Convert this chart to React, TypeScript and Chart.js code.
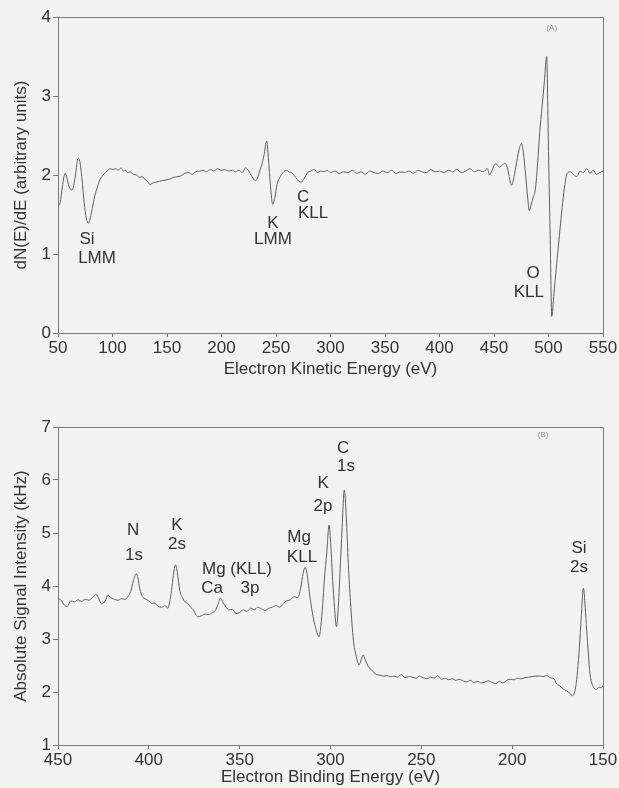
import React, { useEffect, useRef } from "react";
import { Chart, registerables } from "chart.js";

Chart.register(...registerables);

// ---------- Panel A: Auger derivative spectrum ----------
const kineticEnergy = [
  50, 52, 54, 56.5, 58, 60, 62.5, 64, 66, 68.5, 70, 72, 74, 76, 77.8, 79.5, 82, 84, 86, 88.5,
  92, 95, 98, 100, 103, 105, 108, 110, 112, 114, 116, 119, 122, 125, 127, 130, 132, 134.5, 137, 140,
  143, 146, 150, 153, 156, 160, 163, 166, 170, 173, 176, 180, 183, 186, 190, 193, 196, 200, 203, 206,
  210, 213, 216, 219, 222, 225, 228, 231, 233, 235, 237, 239, 241.4, 243, 245, 247, 249, 251, 253.5, 256,
  259, 262, 265, 268, 271, 273, 276, 279, 282, 285, 288, 291, 294, 297, 300, 304, 308, 312, 316, 320,
  324, 328, 332, 336, 340, 344, 348, 352, 356, 360, 364, 368, 372, 376, 380, 384, 388, 392, 396, 400,
  404, 408, 412, 416, 420, 424, 428, 432, 436, 440, 444, 446, 448, 450, 452, 455, 458, 460, 462, 464,
  466, 468, 470, 473, 475.3, 477, 479, 481, 482.3, 484, 486, 488, 490, 492, 494, 496, 498.3, 500, 501.5, 503,
  505, 507, 509, 511, 513, 515, 517, 520, 523, 526, 529, 532, 535, 538, 541, 544, 547, 550,
];
const dNdE = [
  1.6, 1.65, 1.85, 2.02, 1.97, 1.86, 1.81, 1.84, 2.0, 2.21, 2.17, 1.95, 1.65, 1.45, 1.39, 1.45, 1.62, 1.75, 1.84, 1.94,
  2.01, 2.05, 2.08, 2.07, 2.08, 2.06, 2.09, 2.05, 2.06, 2.03, 2.04, 2.01, 2.0, 1.97, 1.98, 1.94, 1.92, 1.88, 1.9, 1.91,
  1.92, 1.93, 1.94, 1.95, 1.97, 1.98, 1.99, 2.02, 2.03, 2.01, 2.04, 2.05, 2.06, 2.04, 2.07, 2.05, 2.08, 2.06, 2.07, 2.05,
  2.06, 2.04, 2.06, 2.03, 2.09, 2.05, 1.98, 1.93, 1.96, 2.05, 2.13, 2.25, 2.43, 2.22, 1.85, 1.63, 1.72, 1.88, 1.97, 2.02,
  2.06, 2.04, 2.02, 1.97, 1.92, 1.91, 1.96, 2.03, 2.05, 2.07, 2.03, 2.05, 2.04, 2.06, 2.03, 2.05, 2.02, 2.04, 2.03, 2.06,
  2.02, 2.04, 2.01, 2.05, 2.03, 2.02, 2.05, 2.03, 2.06, 2.02, 2.04, 2.03, 2.05, 2.02, 2.06, 2.04, 2.03, 2.07, 2.04, 2.05,
  2.03, 2.06, 2.04, 2.07, 2.03, 2.05, 2.08, 2.04, 2.06, 2.04, 2.08, 2.0, 2.05, 2.12, 2.14, 2.1, 2.13, 2.15, 2.1, 1.98,
  1.87, 1.95, 2.1, 2.32, 2.4, 2.28, 2.0, 1.7, 1.55, 1.62, 1.72, 1.82, 2.15, 2.55, 2.85, 3.15, 3.5, 2.3, 1.25, 0.21,
  0.5, 0.8, 1.09, 1.38, 1.65, 1.88, 2.02, 2.04, 2.0, 1.98, 2.05, 2.03, 2.08, 2.02, 2.06, 2.01, 2.03, 2.05,
];
const topNotes = ["Si", "LMM", "K", "LMM", "C", "KLL", "O", "KLL"];
const topNoteX = [76.6, 85.8, 247.2, 247.2, 274.8, 284, 485.8, 482];
const topNoteY = [1.19, 0.94, 1.39, 1.18, 1.72, 1.52, 0.76, 0.51];

// ---------- Panel B: XPS survey ----------
const bindingEnergy = [
  450, 448, 447, 445, 443, 441, 439, 437, 435, 433, 431, 429, 427.5, 426, 424, 422.5, 421, 419, 417, 415,
  413, 411.5, 410, 408.5, 407, 406, 405, 403.5, 402, 400, 398.5, 397, 395, 393, 391, 389.5, 388.5, 387.5, 386.5, 385.3,
  384.3, 383, 381.5, 380, 378.5, 377, 375.5, 374, 372.8, 371, 369, 367, 365, 363.5, 362, 360.5, 359, 357.5, 356, 354,
  352, 350, 348, 346, 344, 342, 340, 338, 336, 334, 332, 330, 328, 326, 324, 322, 320, 318, 316.5, 315,
  314, 313, 311.5, 310, 308.5, 307, 306.3, 305.3, 304.3, 303.4, 302, 300.8, 299.8, 298.8, 297.8, 296.7, 295.8, 294.8, 293.6, 292.4,
  291.3, 290.2, 289, 287.4, 286, 284.3, 283, 282, 281, 279.2, 277.5, 276.4, 275, 273, 271, 269, 267, 265, 263, 261,
  259, 257, 255, 253, 251, 249, 247, 245, 243, 241, 239, 237, 235, 233, 231, 229, 227, 225, 223, 221,
  219, 217, 215, 213, 211, 209, 207, 205, 203, 201, 199, 197, 195, 193, 191, 189, 187, 185, 183, 181,
  179, 177, 175.5, 174, 172, 170, 168, 167, 166, 165, 164, 163, 162, 160.8, 159.8, 159, 158, 157.2, 156, 155,
  154, 153, 152, 151, 150,
];
const signalKHz = [
  3.77, 3.72, 3.66, 3.61, 3.72, 3.7, 3.74, 3.71, 3.75, 3.73, 3.78, 3.84, 3.76, 3.66, 3.72, 3.83, 3.78, 3.75, 3.73, 3.76,
  3.75, 3.8, 3.9, 4.1, 4.23, 4.15, 3.95, 3.8, 3.76, 3.72, 3.67, 3.68, 3.62, 3.6, 3.63, 3.58, 3.7, 3.92, 4.2, 4.4,
  4.25, 3.92, 3.78, 3.7, 3.67, 3.6, 3.55, 3.45, 3.42, 3.44, 3.47, 3.46, 3.5, 3.53, 3.65, 3.77, 3.68, 3.6, 3.55, 3.56,
  3.48, 3.5, 3.55, 3.52, 3.58, 3.55, 3.6, 3.57, 3.54, 3.58, 3.6, 3.63, 3.6, 3.67, 3.72, 3.74, 3.8, 3.78, 3.95, 4.25,
  4.35, 4.25, 3.85, 3.5, 3.25, 3.08, 3.04, 3.25, 3.65, 4.11, 4.65, 5.15, 4.75, 4.11, 3.6, 3.23, 3.55, 4.24, 5.1, 5.81,
  5.3, 4.42, 3.7, 2.98, 2.7, 2.51, 2.62, 2.7, 2.62, 2.48, 2.42, 2.38, 2.33, 2.32, 2.3, 2.31, 2.29, 2.3, 2.28, 2.33,
  2.27, 2.29, 2.28, 2.26, 2.3, 2.27, 2.25, 2.28, 2.26, 2.31, 2.24, 2.26, 2.23, 2.25, 2.22, 2.24, 2.21, 2.19, 2.22, 2.18,
  2.2, 2.17, 2.19, 2.21, 2.18, 2.16, 2.2, 2.17, 2.22, 2.24, 2.23, 2.26, 2.25, 2.27, 2.28, 2.29, 2.3, 2.3, 2.29, 2.31,
  2.27, 2.25, 2.15, 2.12, 2.06, 2.02, 1.97, 1.93, 1.96, 2.1, 2.4, 2.85, 3.4, 3.96, 3.6, 3.17, 2.7, 2.35, 2.15, 2.08,
  2.05, 2.07, 2.09, 2.08, 2.12,
];
const bottomNotes = ["N", "1s", "K", "2s", "Mg (KLL)", "Ca", "3p", "Mg", "KLL", "K", "2p", "C", "1s", "Si", "2s"];
const bottomNoteX = [408.7, 408.2, 384.5, 384.5, 351.5, 365.2, 344.3, 317.3, 315.7, 304.1, 304.1, 293.1, 291.5, 163.2, 163.2];
const bottomNoteY = [5.06, 4.58, 5.15, 4.79, 4.32, 3.96, 3.96, 4.91, 4.55, 5.94, 5.51, 6.6, 6.25, 4.72, 4.36];

const FONT = '"Liberation Sans", Arial, Helvetica, sans-serif';
const INK = "#333333";
const AXIS = "#7a7a7a";
const CURVE = "#5e5e5e";
const PAPER = "#f2f2f0";

const framePlugin = {
  id: "frame",
  afterDraw(chart: any) {
    const { ctx, chartArea } = chart;
    const { left, top, right, bottom } = chartArea;
    ctx.save();
    ctx.strokeStyle = AXIS;
    ctx.lineWidth = 1;
    ctx.beginPath();
    ctx.moveTo(Math.round(left) + 0.5, Math.round(top) + 0.5);
    ctx.lineTo(Math.round(right) + 0.5, Math.round(top) + 0.5);
    ctx.lineTo(Math.round(right) + 0.5, Math.round(bottom) + 0.5);
    ctx.stroke();
    ctx.restore();
  },
};

const notesPlugin = {
  id: "notes",
  afterDatasetsDraw(chart: any, _args: any, opts: any) {
    const { ctx, scales } = chart;
    ctx.save();
    ctx.textAlign = "center";
    ctx.textBaseline = "middle";
    const texts: string[] = opts.texts || [];
    texts.forEach((t, i) => {
      ctx.font = `17px ${FONT}`;
      ctx.fillStyle = INK;
      ctx.fillText(t, scales.x.getPixelForValue(opts.xs[i]), scales.y.getPixelForValue(opts.ys[i]));
    });
    if (opts.tag) {
      ctx.font = `8px ${FONT}`;
      ctx.fillStyle = "#8a8a8a";
      ctx.fillText(opts.tag, scales.x.getPixelForValue(opts.tagX), scales.y.getPixelForValue(opts.tagY));
    }
    ctx.restore();
  },
};

function makeConfig(p: any): any {
  return {
    type: "line",
    data: {
      datasets: [
        {
          data: p.xs.map((x: number, i: number) => ({ x, y: p.ys[i] })),
          borderColor: CURVE,
          borderWidth: 1,
          pointRadius: 0,
          fill: false,
          cubicInterpolationMode: "monotone",
        },
      ],
    },
    options: {
      animation: false,
      responsive: false,
      devicePixelRatio: 1,
      layout: { padding: { top: p.padTop, right: 16, left: 0, bottom: 0 } },
      plugins: {
        legend: { display: false },
        tooltip: { enabled: false },
        notes: { texts: p.notes, xs: p.noteX, ys: p.noteY, tag: p.tag, tagX: p.tagX, tagY: p.tagY },
      },
      scales: {
        x: {
          type: "linear",
          min: p.xMin,
          max: p.xMax,
          reverse: p.reverse,
          afterFit: (s: any) => {
            s.height = p.xAxisHeight;
          },
          ticks: {
            stepSize: 50,
            autoSkip: false,
            maxRotation: 0,
            padding: 1,
            color: INK,
            font: { family: FONT, size: 17 },
          },
          grid: { drawOnChartArea: false, drawTicks: true, tickLength: 4, color: AXIS },
          border: { display: true, color: AXIS },
          title: {
            display: true,
            text: p.xTitle,
            color: INK,
            font: { family: FONT, size: 17 },
            padding: { top: 0, bottom: 0 },
          },
        },
        y: {
          type: "linear",
          min: p.yMin,
          max: p.yMax,
          afterFit: (s: any) => {
            s.width = 58;
          },
          ticks: {
            stepSize: 1,
            padding: 2,
            color: INK,
            font: { family: FONT, size: 17 },
          },
          grid: { drawOnChartArea: false, drawTicks: true, tickLength: 5, color: AXIS },
          border: { display: true, color: AXIS },
          title: {
            display: true,
            text: p.yTitle,
            color: INK,
            font: { family: FONT, size: 17 },
            padding: { top: 11, bottom: 0 },
          },
        },
      },
    },
    plugins: [framePlugin, notesPlugin],
  };
}

export default function App() {
  const topRef = useRef<HTMLCanvasElement | null>(null);
  const bottomRef = useRef<HTMLCanvasElement | null>(null);

  useEffect(() => {
    document.body.style.margin = "0";
    document.body.style.background = PAPER;
    const top = new Chart(
      topRef.current as HTMLCanvasElement,
      makeConfig({
        xs: kineticEnergy,
        ys: dNdE,
        xMin: 50,
        xMax: 550,
        reverse: false,
        yMin: 0,
        yMax: 4,
        padTop: 17,
        xAxisHeight: 47,
        xTitle: "Electron Kinetic Energy (eV)",
        yTitle: "dN(E)/dE (arbitrary units)",
        notes: topNotes,
        noteX: topNoteX,
        noteY: topNoteY,
        tag: "(A)",
        tagX: 503,
        tagY: 3.86,
      })
    );
    const bottom = new Chart(
      bottomRef.current as HTMLCanvasElement,
      makeConfig({
        xs: bindingEnergy,
        ys: signalKHz,
        xMin: 150,
        xMax: 450,
        reverse: true,
        yMin: 1,
        yMax: 7,
        padTop: 47,
        xAxisHeight: 43,
        xTitle: "Electron Binding Energy (eV)",
        yTitle: "Absolute Signal Intensity (kHz)",
        notes: bottomNotes,
        noteX: bottomNoteX,
        noteY: bottomNoteY,
        tag: "(B)",
        tagX: 183,
        tagY: 6.85,
      })
    );
    return () => {
      top.destroy();
      bottom.destroy();
    };
  }, []);

  return (
    <div style={{ position: "relative", width: 619, height: 788, background: PAPER, overflow: "hidden" }}>
      <canvas ref={topRef} width={619} height={380} style={{ position: "absolute", left: 0, top: 0, width: 619, height: 380 }} />
      <canvas ref={bottomRef} width={619} height={408} style={{ position: "absolute", left: 0, top: 380, width: 619, height: 408 }} />
    </div>
  );
}
